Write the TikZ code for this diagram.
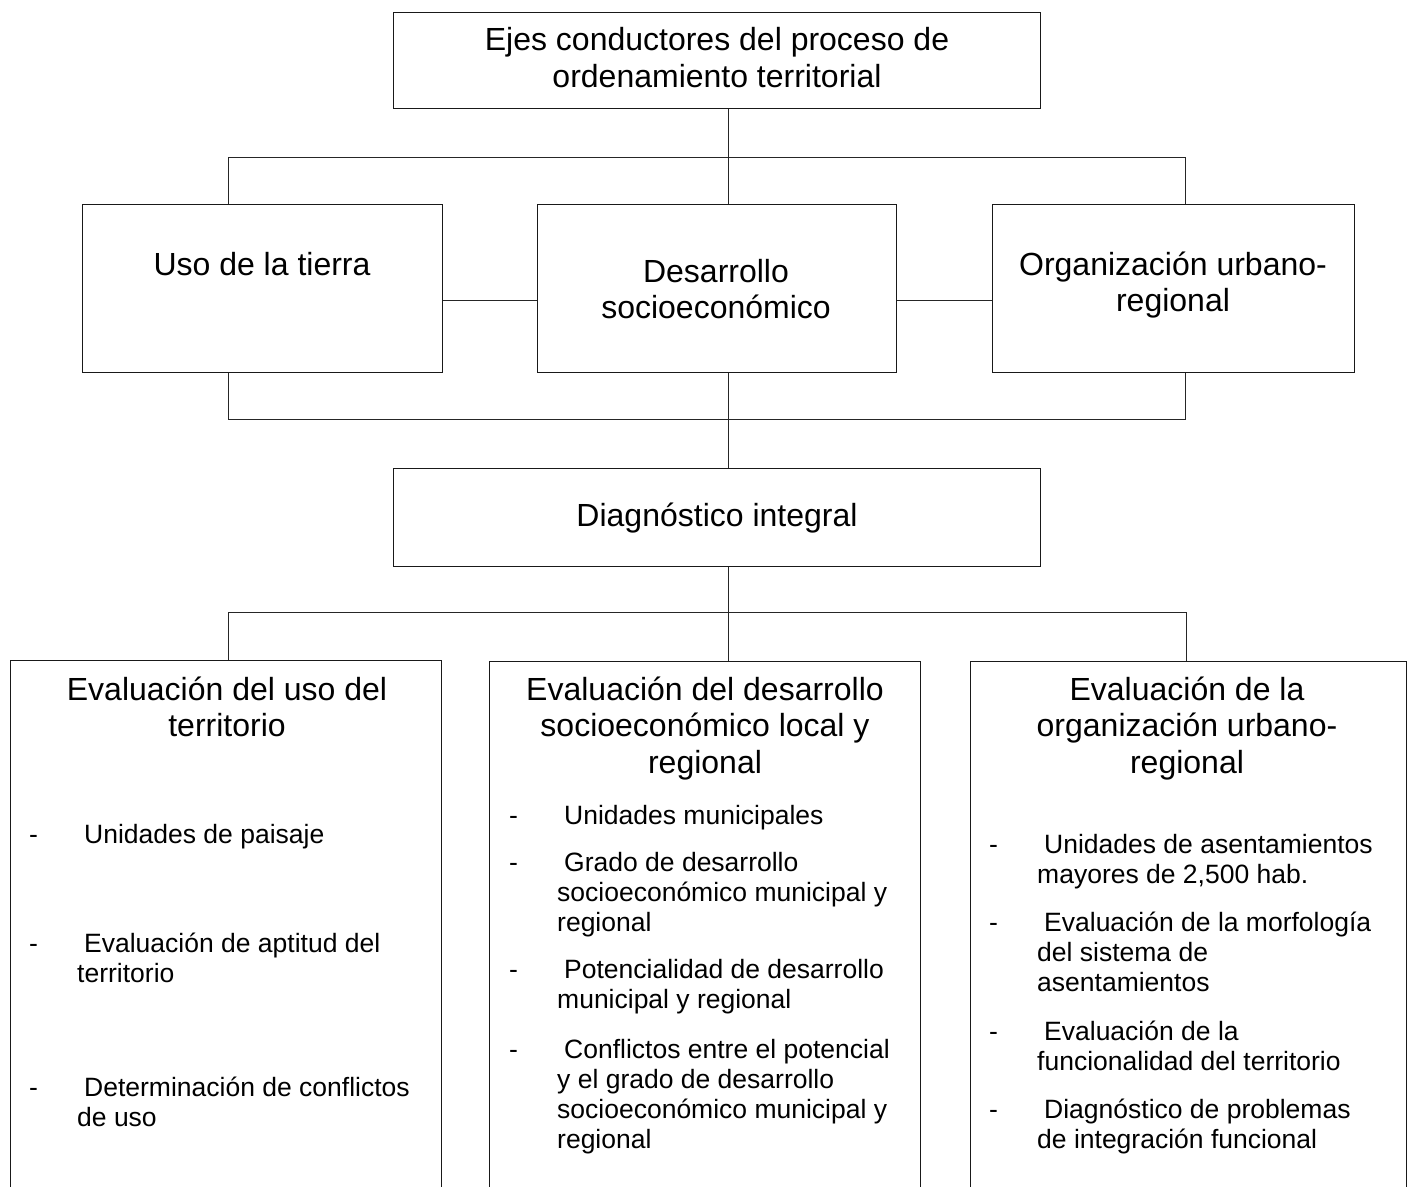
\documentclass[tikz,border=0pt]{standalone}
\usepackage{fontspec}
\setmainfont{Liberation Sans}
\newcommand\mycstack[1]{\begin{tabular}[t]{@{}c@{}}#1\end{tabular}}
\newcommand\mylstack[1]{\begin{tabular}[t]{@{}l@{}}#1\end{tabular}}
\begin{document}
\begin{tikzpicture}[x=1pt,y=-1pt,
  box/.style={draw=black!90,line width=1.2pt,inner sep=0pt,anchor=north west},
  conn/.style={draw=black!85,line width=1pt},
  big/.style={inner sep=0pt,anchor=base,font=\fontsize{32}{36.5}\selectfont},
  item/.style={inner sep=0pt,anchor=base west,font=\fontsize{26.5}{30}\selectfont},
  dashmark/.style={inner sep=0pt,anchor=base west,font=\fontsize{26.5}{30}\selectfont}]
\useasboundingbox (0,0) rectangle (1413,1186);
\fill[white] (0,0) rectangle (1413,1186);
% boxes
\node[box,minimum width=647,minimum height=96] (top) at (393,12) {};
\node[box,minimum width=360,minimum height=168] (uso) at (82,204) {};
\node[box,minimum width=359,minimum height=168] (des) at (537,204) {};
\node[box,minimum width=362,minimum height=168] (org) at (992,204) {};
\node[box,minimum width=647,minimum height=98] (diag) at (393,468) {};
\node[box,minimum width=431,minimum height=560] (ev1) at (10,660) {};
\node[box,minimum width=431,minimum height=560] (ev2) at (489,661) {};
\node[box,minimum width=436,minimum height=560] (ev3) at (970,661) {};
% texts
\node[big] (ttop) at (717,50) {\fontsize{32}{37}\selectfont\mycstack{Ejes conductores del proceso de\\ordenamiento territorial}};
\node[big] (tuso) at (262,275) {Uso de la tierra};
\node[big] (tdes) at (716,282) {\fontsize{32}{36}\selectfont\mycstack{Desarrollo\\socioeconómico}};
\node[big] (torg) at (1173,275) {\fontsize{32}{36}\selectfont\mycstack{Organización urbano-\\regional}};
\node[big] (tdiag) at (717,526) {Diagnóstico integral};
\node[big] (h1) at (227,700) {\mycstack{Evaluación del uso del\\territorio}};
\node[big] (h2) at (705,700) {\mycstack{Evaluación del desarrollo\\socioeconómico local y\\regional}};
\node[big] (h3) at (1187,700) {\mycstack{Evaluación de la\\organización urbano-\\regional}};
% items left
\node[dashmark] (d11) at (29,843) {-};
\node[item] (i11) at (77,843) {\mylstack{\hspace*{7pt}Unidades de paisaje}};
\node[dashmark] (d12) at (29,952) {-};
\node[item] (i12) at (77,952) {\mylstack{\hspace*{7pt}Evaluación de aptitud del\\territorio}};
\node[dashmark] (d13) at (29,1096) {-};
\node[item] (i13) at (77,1096) {\mylstack{\hspace*{7pt}Determinación de conflictos\\de uso}};
% items middle
\node[dashmark] (d21) at (509,824) {-};
\node[item] (i21) at (557,824) {\mylstack{\hspace*{7pt}Unidades municipales}};
\node[dashmark] (d22) at (509,871) {-};
\node[item] (i22) at (557,871) {\mylstack{\hspace*{7pt}Grado de desarrollo\\socioeconómico municipal y\\regional}};
\node[dashmark] (d23) at (509,978) {-};
\node[item] (i23) at (557,978) {\mylstack{\hspace*{7pt}Potencialidad de desarrollo\\municipal y regional}};
\node[dashmark] (d24) at (509,1058) {-};
\node[item] (i24) at (557,1058) {\mylstack{\hspace*{7pt}Conflictos entre el potencial\\y el grado de desarrollo\\socioeconómico municipal y\\regional}};
% items right
\node[dashmark] (d31) at (989,853) {-};
\node[item] (i31) at (1037,853) {\mylstack{\hspace*{7pt}Unidades de asentamientos\\mayores de 2,500 hab.}};
\node[dashmark] (d32) at (989,931) {-};
\node[item] (i32) at (1037,931) {\mylstack{\hspace*{7pt}Evaluación de la morfología\\del sistema de\\asentamientos}};
\node[dashmark] (d33) at (989,1040) {-};
\node[item] (i33) at (1037,1040) {\mylstack{\hspace*{7pt}Evaluación de la\\funcionalidad del territorio}};
\node[dashmark] (d34) at (989,1118) {-};
\node[item] (i34) at (1037,1118) {\mylstack{\hspace*{7pt}Diagnóstico de problemas\\de integración funcional}};
% connector coordinates
\coordinate (j1) at (728,157);
\coordinate (b1l) at (228,157);
\coordinate (b1r) at (1185,157);
\coordinate (hm) at (0,300);
\coordinate (b2l) at (228,419);
\coordinate (b2r) at (1185,419);
\coordinate (b3l) at (228,612);
\coordinate (b3r) at (1186,612);
% connectors
\draw[conn] (top.south -| j1) -- (des.north -| j1);
\draw[conn] (uso.north -| b1l) -- (b1l) -- (b1r) -- (org.north -| b1r);
\draw[conn] (uso.east |- hm) -- (des.west |- hm);
\draw[conn] (des.east |- hm) -- (org.west |- hm);
\draw[conn] (uso.south -| b2l) -- (b2l) -- (b2r) -- (org.south -| b2r);
\draw[conn] (des.south -| j1) -- (diag.north -| j1);
\draw[conn] (diag.south -| j1) -- (ev2.north -| j1);
\draw[conn] (ev1.north -| b3l) -- (b3l) -- (b3r) -- (ev3.north -| b3r);
\end{tikzpicture}
\end{document}
